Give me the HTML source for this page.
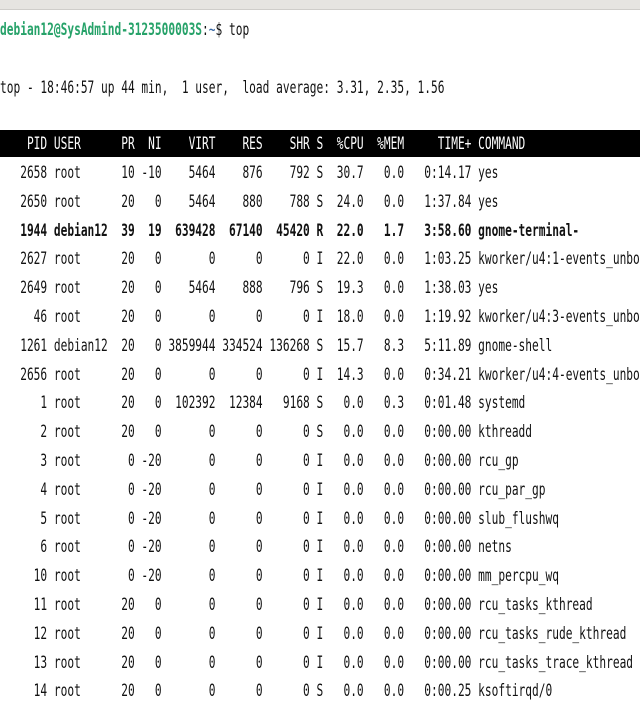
<!DOCTYPE html>
<html><head><meta charset="utf-8">
<style>
html,body{margin:0;padding:0;background:#fff;}
body{width:640px;height:706px;position:relative;overflow:hidden;}
.titlebar{position:absolute;left:0;top:0;width:640px;height:9px;background:#e6e4e1;border-bottom:1px solid #cfcdca;}
.ln{position:absolute;left:0;white-space:pre;font-family:"DejaVu Sans Mono","Liberation Mono",monospace;font-size:17px;line-height:20px;color:#111;transform:scaleX(0.658);transform-origin:0 0;}
.hdrbar{position:absolute;left:0;top:130px;width:640px;height:27px;background:#000;}
.b{font-weight:bold;}
.g{color:#26a269;font-weight:bold;}
</style></head>
<body>
<div class="titlebar"></div>
<div class="ln" style="top:20px"><span class="g">debian12@SysAdmind-3123500003S</span>:<span style="color:#3465a4">~</span>$ top</div>
<div class="ln" style="top:78px">top - 18:46:57 up 44 min,  1 user,  load average: 3.31, 2.35, 1.56</div>
<div class="hdrbar"></div>
<div class="ln" style="top:134px;color:#fff">    PID USER      PR  NI    VIRT    RES    SHR S  %CPU  %MEM     TIME+ COMMAND</div>
<div id="rows"></div>
<script>
const pids=[2658,2650,1944,2627,2649,46,1261,2656,1,2,3,4,5,6,10,11,12,13,14];
const users=["root","root","debian12","root","root","root","debian12","root","root","root","root","root","root","root","root","root","root","root","root"];
const prs=["10","20","39","20","20","20","20","20","20","20","0","0","0","0","0","20","20","20","20"];
const nis=["-10","0","19","0","0","0","0","0","0","0","-20","-20","-20","-20","-20","0","0","0","0"];
const virts=[5464,5464,639428,0,5464,0,3859944,0,102392,0,0,0,0,0,0,0,0,0,0];
const ress=[876,880,67140,0,888,0,334524,0,12384,0,0,0,0,0,0,0,0,0,0];
const shrs=[792,788,45420,0,796,0,136268,0,9168,0,0,0,0,0,0,0,0,0,0];
const states=["S","S","R","I","S","I","S","I","S","S","I","I","I","I","I","I","I","I","S"];
const cpus=["30.7","24.0","22.0","22.0","19.3","18.0","15.7","14.3","0.0","0.0","0.0","0.0","0.0","0.0","0.0","0.0","0.0","0.0","0.0"];
const mems=["0.0","0.0","1.7","0.0","0.0","0.0","8.3","0.0","0.3","0.0","0.0","0.0","0.0","0.0","0.0","0.0","0.0","0.0","0.0"];
const times=["0:14.17","1:37.84","3:58.60","1:03.25","1:38.03","1:19.92","5:11.89","0:34.21","0:01.48","0:00.00","0:00.00","0:00.00","0:00.00","0:00.00","0:00.00","0:00.00","0:00.00","0:00.00","0:00.25"];
const cmds=["yes","yes","gnome-terminal-","kworker/u4:1-events_unbo","yes","kworker/u4:3-events_unbo","gnome-shell","kworker/u4:4-events_unbo","systemd","kthreadd","rcu_gp","rcu_par_gp","slub_flushwq","netns","mm_percpu_wq","rcu_tasks_kthread","rcu_tasks_rude_kthread","rcu_tasks_trace_kthread","ksoftirqd/0"];
const boldRow=2;
const wrap=document.getElementById('rows');
const p=(v,n)=>String(v).padStart(n,' ');
for(let i=0;i<pids.length;i++){
  const d=document.createElement('div');
  d.className='ln'+(i===boldRow?' b':'');
  d.style.top=(163+i*28.8)+'px';
  d.textContent=p(pids[i],7)+' '+users[i].padEnd(9,' ')+p(prs[i],3)+p(nis[i],4)+p(virts[i],8)+p(ress[i],7)+p(shrs[i],7)+' '+states[i]+p(cpus[i],6)+p(mems[i],6)+p(times[i],10)+' '+cmds[i];
  
  
  wrap.appendChild(d);
}
</script>
</body></html>
